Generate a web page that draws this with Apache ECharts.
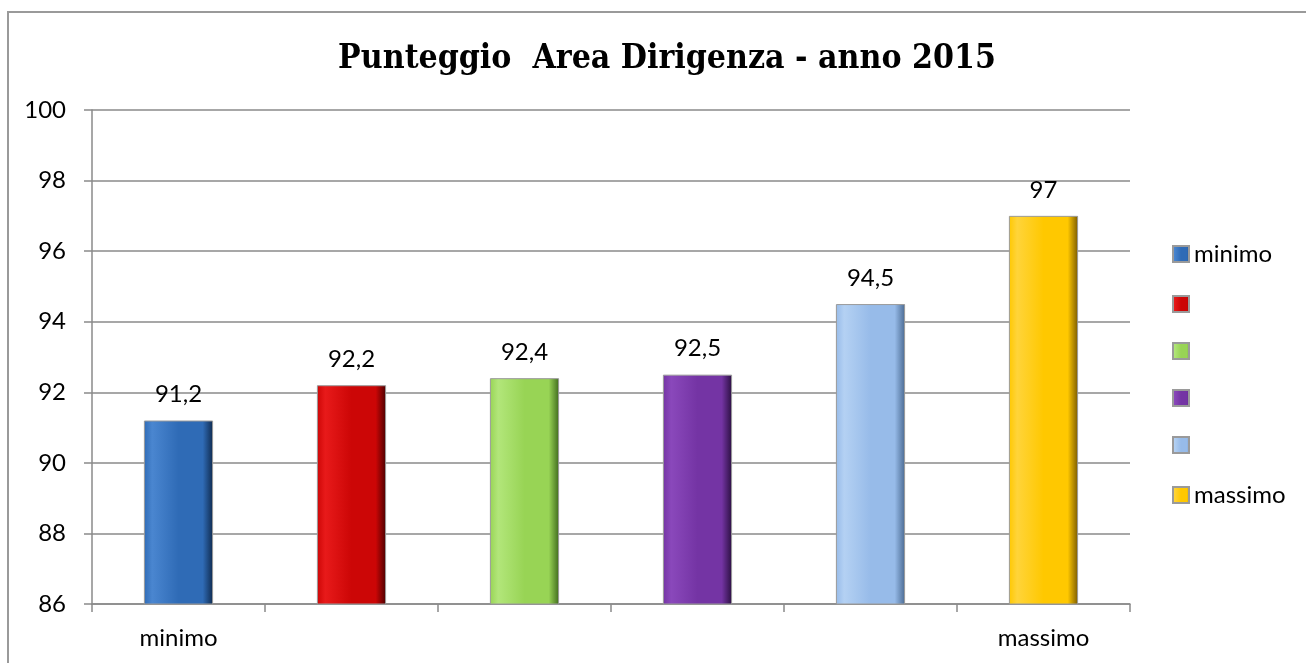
<!DOCTYPE html>
<html>
<head>
<meta charset="utf-8">
<script src="https://cdn.jsdelivr.net/npm/echarts@6/dist/echarts.min.js"></script>
<style>
  html, body { margin: 0; padding: 0; background: #fff; }
  #main { width: 1306px; height: 663px; }
</style>
</head>
<body>
<div id="main"></div>
<script>
// dati del grafico
const categories = ['minimo', '', '', '', '', 'massimo'];
const values = [91.2, 92.2, 92.4, 92.5, 94.5, 97];
const yTicks = [86, 88, 90, 92, 94, 96, 98, 100];
const seriesNames = ['p1', 'p2', 'p3', 'p4', 'p5', 'p6'];
// colori: [chiaro, base, scuro]
const barColors = [
  ['#4a86d0', '#2f6bb6', '#0f2a4e'],
  ['#e81a1a', '#cc0606', '#4a0000'],
  ['#b2e67a', '#98d455', '#3f6a1c'],
  ['#8a48bb', '#7434a4', '#2a0f40'],
  ['#b4d1f3', '#97bbe9', '#4a6a92'],
  ['#ffd43a', '#ffc800', '#7a5a00']
];

function grad(c) {
  return new echarts.graphic.LinearGradient(0, 0, 1, 0, [
    { offset: 0, color: c[1] },
    { offset: 0.12, color: c[0] },
    { offset: 0.5, color: c[1] },
    { offset: 0.85, color: c[1] },
    { offset: 1, color: c[2] }
  ]);
}

const myChart = echarts.init(document.getElementById('main'));

const series = seriesNames.map((name, i) => ({
  name: name,
  type: 'bar',
  barWidth: '40%',
  barGap: '-100%',
  data: values.map((v, j) => (j === i ? v : null)),
  itemStyle: {
    color: grad(barColors[i]),
    borderColor: '#9a9a9a',
    borderWidth: 1
  },
  label: {
    show: true,
    position: 'top',
    distance: 14,
    color: '#000',
    fontSize: 24,
    fontFamily: 'Lato',
    formatter: (p) => String(p.value).replace('.', ',')
  }
}));

myChart.setOption({
  animation: false,
  title: {
    text: 'Punteggio  Area Dirigenza - anno 2015',
    left: 662,
    top: 37,
    textAlign: 'center',
    textStyle: {
      fontFamily: 'DejaVu Serif Condensed',
      fontWeight: 'bold',
      fontSize: 33.5,
      color: '#000'
    }
  },
  legend: {
    orient: 'vertical',
    left: 1172,
    top: 242,
    padding: 0,
    itemWidth: 16,
    itemHeight: 16,
    itemGap: 29,
    icon: 'rect',
    data: seriesNames,
    formatter: (name) => categories[seriesNames.indexOf(name)],
    textStyle: { fontSize: 24, fontFamily: 'Lato', color: '#000', lineHeight: 16 }
  },
  grid: { left: 92, right: 176, top: 110, bottom: 59 },
  xAxis: {
    type: 'category',
    data: categories,
    axisLine: { lineStyle: { color: '#8a8a8a', width: 1.5 } },
    axisTick: { show: true, length: 8, lineStyle: { color: '#8a8a8a', width: 1.5 } },
    axisLabel: { color: '#000', fontSize: 24, fontFamily: 'Lato', margin: 22 }
  },
  yAxis: {
    type: 'value',
    min: yTicks[0],
    max: yTicks[yTicks.length - 1],
    interval: 2,
    axisLine: { show: true, lineStyle: { color: '#8a8a8a', width: 1.5 } },
    axisTick: { show: true, length: 8, lineStyle: { color: '#8a8a8a', width: 1.5 } },
    splitLine: { lineStyle: { color: '#8a8a8a', width: 1.5 } },
    axisLabel: { color: '#000', fontSize: 24, fontFamily: 'Lato', margin: 26 }
  },
  graphic: [{
    type: 'rect',
    shape: { x: 8, y: 12, width: 1320, height: 700 },
    style: { fill: 'none', stroke: '#9a9a9a', lineWidth: 2 },
    silent: true
  }],
  series: series
});
</script>
</body>
</html>
